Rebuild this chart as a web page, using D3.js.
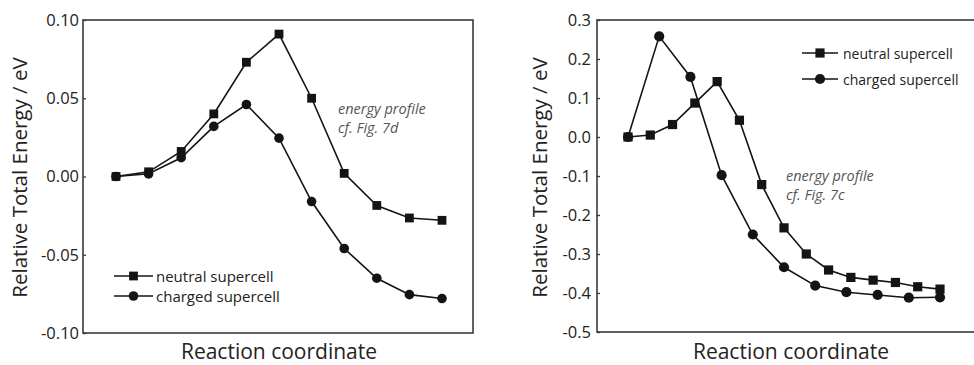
<!DOCTYPE html>
<html>
<head>
<meta charset="utf-8">
<script src="https://cdn.jsdelivr.net/npm/d3@7"></script>
<style>
  html, body { margin: 0; padding: 0; background: #fff; }
  svg { display: block; font-family: "Open Sans", "DejaVu Sans", sans-serif; }
</style>
</head>
<body>
<svg id="chart" width="974" height="365"></svg>
<script>
// ---- Data ----
// Left panel (energy profile cf. Fig. 7d): 11 images along the reaction coordinate
const leftNeutral = [0.000, 0.003, 0.016, 0.040, 0.073, 0.091, 0.050, 0.002, -0.0185, -0.0265, -0.028];
const leftCharged = [0.000, 0.0017, 0.012, 0.032, 0.046, 0.0245, -0.016, -0.046, -0.065, -0.0755, -0.078];
const leftTicks = [-0.10, -0.05, 0.00, 0.05, 0.10];

// Right panel (energy profile cf. Fig. 7c): 15 neutral images, 11 charged images
const rightNeutral = [0.000, 0.005, 0.032, 0.087, 0.142, 0.043, -0.122, -0.233, -0.300, -0.341, -0.360, -0.367, -0.373, -0.384, -0.390];
const rightCharged = [0.000, 0.258, 0.154, -0.098, -0.250, -0.334, -0.381, -0.398, -0.405, -0.412, -0.411];
const rightTicks = [-0.5, -0.4, -0.3, -0.2, -0.1, 0.0, 0.1, 0.2, 0.3];

const seriesNames = ["neutral supercell", "charged supercell"];
const yLabel = "Relative Total Energy / eV";
const xLabel = "Reaction coordinate";
const notesLeft = ["energy profile", "cf. Fig. 7d"];
const notesRight = ["energy profile", "cf. Fig. 7c"];

// ---- Drawing ----
const svg = d3.select("#chart");
const ink = "#141414";
const frameColor = "#3a3a3a";

function drawPanel(cfg) {
  const g = svg.append("g");
  const y = d3.scaleLinear().domain(cfg.yDomain).range([cfg.box.bottom, cfg.box.top]);
  const toFrac = (arr) => arr.map((v, i) => ({ x: i / (arr.length - 1), y: v }));
  const x = d3.scaleLinear().domain([0, 1]).range(cfg.xRange);

  // frame
  g.append("rect")
    .attr("x", cfg.box.left).attr("y", cfg.box.top)
    .attr("width", cfg.box.right - cfg.box.left)
    .attr("height", cfg.box.bottom - cfg.box.top)
    .attr("fill", "none").attr("stroke", frameColor).attr("stroke-width", 1.6);

  // y axis
  const axis = d3.axisLeft(y)
    .tickValues(cfg.ticks)
    .tickFormat(d => d.toFixed(cfg.decimals))
    .tickSizeInner(-3).tickSizeOuter(0).tickPadding(cfg.tickPad);
  const ag = g.append("g").attr("transform", `translate(${cfg.box.left},0)`).call(axis);
  ag.select(".domain").remove();
  ag.selectAll(".tick line").attr("stroke", frameColor).attr("stroke-width", 1.3);
  ag.selectAll(".tick text")
    .attr("fill", "#222").style("font-size", "16.5px")
    .style("font-family", "'Open Sans', sans-serif");

  // labels
  g.append("text")
    .attr("transform", `translate(${cfg.yLabelX},${(55 + 300) / 2}) rotate(-90)`)
    .attr("text-anchor", "middle").attr("dominant-baseline", "central")
    .attr("fill", "#222").style("font-size", "20.5px").text(yLabel);
  g.append("text")
    .attr("x", cfg.xLabelX).attr("y", 359)
    .attr("text-anchor", "middle")
    .attr("fill", "#222").style("font-size", "21px").text(xLabel);

  // annotation
  cfg.notes.forEach((t, i) => {
    g.append("text")
      .attr("x", cfg.noteX).attr("y", cfg.noteY + i * 19)
      .attr("fill", "#555").style("font-size", "14.5px").style("font-style", "italic")
      .text(t);
  });

  const line = d3.line().x(d => x(d.x)).y(d => y(d.y));

  // series
  const sets = [
    { data: toFrac(cfg.neutral), shape: "square" },
    { data: toFrac(cfg.charged), shape: "circle" }
  ];
  sets.forEach(s => {
    g.append("path").datum(s.data)
      .attr("d", line).attr("fill", "none")
      .attr("stroke", ink).attr("stroke-width", 1.6);
  });
  sets.forEach(s => {
    if (s.shape === "square") {
      g.selectAll(null).data(s.data).enter().append("rect")
        .attr("x", d => x(d.x) - cfg.sq / 2).attr("y", d => y(d.y) - cfg.sq / 2)
        .attr("width", cfg.sq).attr("height", cfg.sq).attr("fill", ink);
    } else {
      g.selectAll(null).data(s.data).enter().append("circle")
        .attr("cx", d => x(d.x)).attr("cy", d => y(d.y))
        .attr("r", cfg.cr).attr("fill", ink);
    }
  });

  // legend
  const L = cfg.legend;
  seriesNames.forEach((name, i) => {
    const ly = L.y + i * L.dy;
    g.append("line").attr("x1", L.x1).attr("x2", L.x2).attr("y1", ly).attr("y2", ly)
      .attr("stroke", ink).attr("stroke-width", 1.6);
    const mx = (L.x1 + L.x2) / 2;
    if (i === 0) {
      g.append("rect").attr("x", mx - cfg.sq / 2).attr("y", ly - cfg.sq / 2)
        .attr("width", cfg.sq).attr("height", cfg.sq).attr("fill", ink);
    } else {
      g.append("circle").attr("cx", mx).attr("cy", ly).attr("r", cfg.cr).attr("fill", ink);
    }
    g.append("text").attr("x", L.tx).attr("y", ly)
      .attr("dominant-baseline", "central")
      .attr("fill", "#222").style("font-size", L.fs + "px").text(name);
  });
}

drawPanel({
  box: { left: 83, right: 473, top: 20, bottom: 333 },
  yDomain: [-0.10, 0.10],
  ticks: leftTicks, decimals: 2, tickPad: 4,
  xRange: [116, 442],
  neutral: leftNeutral, charged: leftCharged,
  yLabelX: 19, xLabelX: 279,
  notes: notesLeft, noteX: 338, noteY: 114,
  sq: 8.8, cr: 4.8,
  legend: { x1: 114, x2: 153, tx: 156, y: 276, dy: 20, fs: 15 }
});

drawPanel({
  box: { left: 597, right: 990, top: 20, bottom: 332 },
  yDomain: [-0.5, 0.3],
  ticks: rightTicks, decimals: 1, tickPad: 6,
  xRange: [628, 940],
  neutral: rightNeutral, charged: rightCharged,
  yLabelX: 539, xLabelX: 791,
  notes: notesRight, noteX: 786, noteY: 181,
  sq: 9.2, cr: 5.1,
  legend: { x1: 802, x2: 838, tx: 843, y: 53, dy: 26, fs: 14 }
});
</script>
</body>
</html>
